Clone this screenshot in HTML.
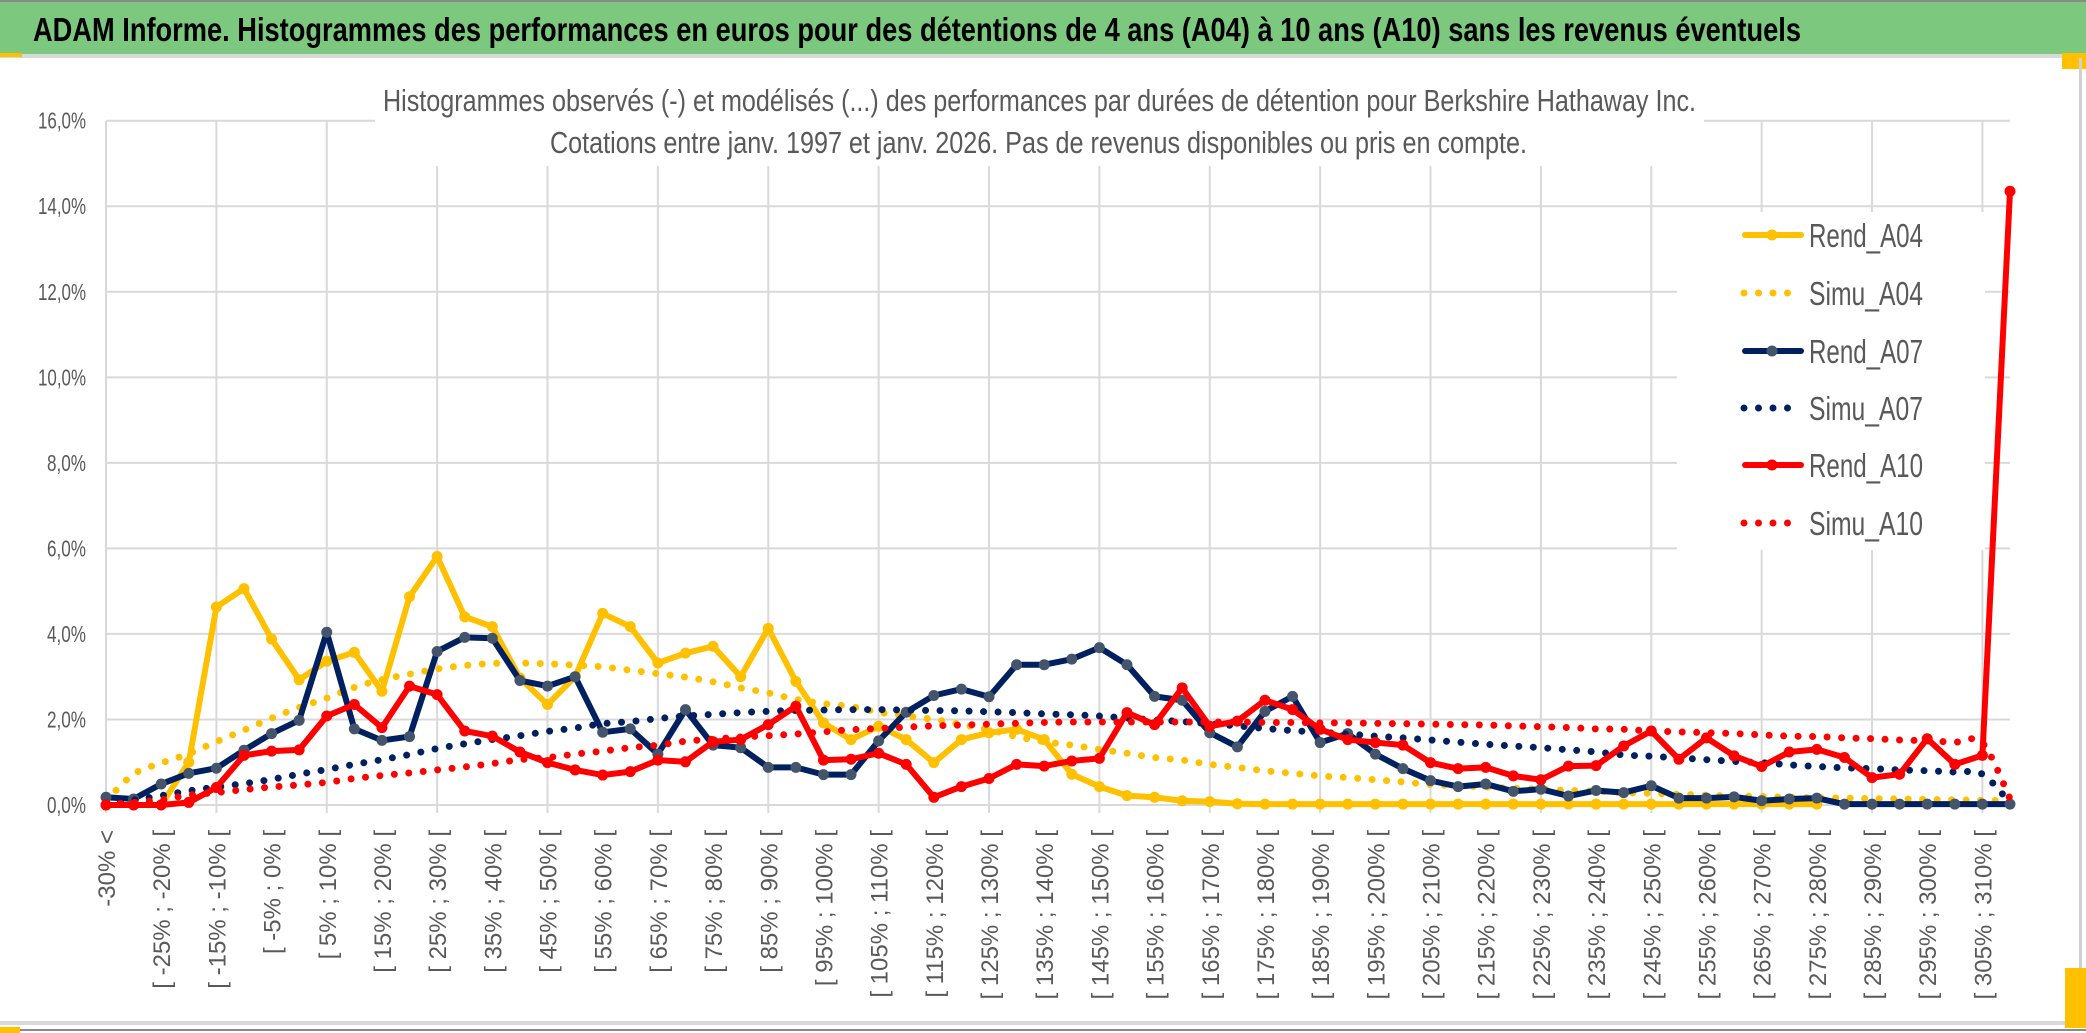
<!DOCTYPE html>
<html><head><meta charset="utf-8">
<style>
html,body{margin:0;padding:0;background:#fff;}
svg{display:block;}
.nar{font-family:"Liberation Sans Narrow","Liberation Sans",sans-serif;}
.reg{font-family:"Liberation Sans",sans-serif;}
</style></head>
<body>
<svg id="chart" width="2086" height="1033" viewBox="0 0 2086 1033" xmlns="http://www.w3.org/2000/svg">
  <rect x="0" y="0" width="2086" height="1033" fill="#fff"/>
  <rect x="0" y="0" width="2086" height="2" fill="#8a8a8a"/>
  <rect x="0" y="2" width="2086" height="52" fill="#7DC87F"/>
  <rect x="0" y="54" width="2086" height="4" fill="#d9d9d9"/>
  <rect x="0" y="53" width="22" height="4" fill="#FFC000"/>
  <rect x="2062" y="53" width="24" height="16" fill="#FFC000"/>
  <rect x="2079" y="58" width="3" height="968" fill="#d0d0d0"/>
  <rect x="0" y="1021" width="2086" height="4" fill="#d9d9d9"/>
  <rect x="0" y="1029" width="2086" height="2" fill="#8a8a8a"/>
  <rect x="0" y="1027" width="20" height="6" fill="#FFC000"/>
  <rect x="2065" y="968" width="21" height="60" fill="#FFC000"/>
  <text class="nar" x="33" y="41" font-size="33" font-weight="bold" fill="#000" textLength="1768" lengthAdjust="spacingAndGlyphs">ADAM Informe. Histogrammes des performances en euros pour des détentions de 4 ans (A04) à 10 ans (A10) sans les revenus éventuels</text>
  <g id="grid"></g>
  <g id="yaxis"></g>
  <g id="xaxis"></g>
  <rect x="375" y="72" width="1329" height="94" fill="#fff"/>
  <text class="nar" x="383" y="111" font-size="31" fill="#595959" textLength="1313" lengthAdjust="spacingAndGlyphs">Histogrammes observés (-) et modélisés (...) des performances par durées de détention pour Berkshire Hathaway Inc.</text>
  <text class="nar" x="550" y="153" font-size="31" fill="#595959" textLength="977" lengthAdjust="spacingAndGlyphs">Cotations entre janv. 1997 et janv. 2026. Pas de revenus disponibles ou pris en compte.</text>
  <g id="series"></g>
  <g id="legend"></g>
</svg>
<script>
const categories = ["-30% <",
"[ -30% ; -25% [","[ -25% ; -20% [","[ -20% ; -15% [","[ -15% ; -10% [","[ -10% ; -5% [","[ -5% ; 0% [","[ 0% ; 5% [","[ 5% ; 10% [","[ 10% ; 15% [","[ 15% ; 20% [",
"[ 20% ; 25% [","[ 25% ; 30% [","[ 30% ; 35% [","[ 35% ; 40% [","[ 40% ; 45% [","[ 45% ; 50% [","[ 50% ; 55% [","[ 55% ; 60% [","[ 60% ; 65% [","[ 65% ; 70% [",
"[ 70% ; 75% [","[ 75% ; 80% [","[ 80% ; 85% [","[ 85% ; 90% [","[ 90% ; 95% [","[ 95% ; 100% [","[ 100% ; 105% [","[ 105% ; 110% [","[ 110% ; 115% [","[ 115% ; 120% [",
"[ 120% ; 125% [","[ 125% ; 130% [","[ 130% ; 135% [","[ 135% ; 140% [","[ 140% ; 145% [","[ 145% ; 150% [","[ 150% ; 155% [","[ 155% ; 160% [","[ 160% ; 165% [","[ 165% ; 170% [",
"[ 170% ; 175% [","[ 175% ; 180% [","[ 180% ; 185% [","[ 185% ; 190% [","[ 190% ; 195% [","[ 195% ; 200% [","[ 200% ; 205% [","[ 205% ; 210% [","[ 210% ; 215% [","[ 215% ; 220% [",
"[ 220% ; 225% [","[ 225% ; 230% [","[ 230% ; 235% [","[ 235% ; 240% [","[ 240% ; 245% [","[ 245% ; 250% [","[ 250% ; 255% [","[ 255% ; 260% [","[ 260% ; 265% [","[ 265% ; 270% [",
"[ 270% ; 275% [","[ 275% ; 280% [","[ 280% ; 285% [","[ 285% ; 290% [","[ 290% ; 295% [","[ 295% ; 300% [","[ 300% ; 305% [","[ 305% ; 310% [","[ 310% ; 315% ["];

const rendA04 = [0,0,0,1.0,4.63,5.06,3.88,2.93,3.36,3.57,2.66,4.87,5.81,4.4,4.17,2.97,2.35,3.0,4.48,4.17,3.32,3.55,3.71,3.0,4.13,2.89,1.92,1.53,1.84,1.53,0.99,1.53,1.69,1.77,1.53,0.72,0.43,0.22,0.18,0.1,0.08,0.03,0.02,0.02,0.02,0.02,0.02,0.02,0.02,0.02,0.02,0.02,0.02,0.02,0.02,0.02,0.02,0.02,0.02,0.02,0.02,0.02,0.02];
const simuA04 = [0.1,0.72,0.98,1.2,1.48,1.75,2.03,2.28,2.5,2.75,2.93,3.06,3.18,3.26,3.31,3.32,3.3,3.27,3.23,3.15,3.07,2.99,2.88,2.74,2.62,2.47,2.37,2.3,2.17,2.08,2.0,1.88,1.76,1.6,1.48,1.4,1.3,1.21,1.11,1.05,0.95,0.88,0.8,0.74,0.68,0.64,0.59,0.54,0.48,0.45,0.42,0.39,0.37,0.34,0.32,0.29,0.27,0.25,0.23,0.21,0.2,0.18,0.17,0.16,0.15,0.14,0.13,0.12,0.11,0.1];
const rendA07 = [0.18,0.14,0.49,0.74,0.86,1.28,1.67,1.98,4.04,1.78,1.51,1.6,3.59,3.92,3.9,2.91,2.78,3.0,1.7,1.78,1.19,2.23,1.4,1.34,0.88,0.88,0.71,0.71,1.5,2.17,2.56,2.71,2.53,3.28,3.28,3.41,3.68,3.28,2.54,2.45,1.69,1.36,2.19,2.54,1.46,1.67,1.19,0.85,0.57,0.43,0.49,0.32,0.37,0.21,0.34,0.29,0.45,0.16,0.16,0.19,0.1,0.14,0.16,0.02,0.02,0.02,0.02,0.02,0.02,0.02];
const simuA07 = [0.05,0.12,0.22,0.33,0.42,0.5,0.6,0.72,0.83,0.95,1.06,1.18,1.32,1.43,1.53,1.62,1.72,1.8,1.9,1.95,2.02,2.08,2.12,2.16,2.19,2.21,2.22,2.23,2.23,2.22,2.21,2.2,2.18,2.16,2.13,2.11,2.08,2.03,1.99,1.95,1.9,1.85,1.79,1.74,1.7,1.66,1.61,1.57,1.52,1.47,1.42,1.38,1.34,1.29,1.24,1.17,1.14,1.1,1.06,1.02,0.99,0.94,0.9,0.87,0.85,0.82,0.8,0.77,0.72,0.05];
const rendA10 = [0,0,0,0.06,0.41,1.16,1.26,1.29,2.08,2.35,1.81,2.78,2.58,1.73,1.61,1.24,0.99,0.82,0.7,0.78,1.05,1.01,1.48,1.53,1.88,2.31,1.05,1.07,1.21,0.95,0.18,0.43,0.62,0.95,0.91,1.03,1.09,2.16,1.88,2.74,1.84,1.96,2.45,2.23,1.77,1.53,1.46,1.4,0.99,0.85,0.88,0.68,0.59,0.91,0.92,1.38,1.73,1.07,1.57,1.15,0.9,1.24,1.3,1.11,0.64,0.72,1.55,0.95,1.16,14.35];
const simuA10 = [0.02,0.06,0.12,0.23,0.29,0.36,0.42,0.47,0.53,0.62,0.69,0.75,0.82,0.89,0.97,1.06,1.11,1.19,1.26,1.34,1.4,1.49,1.54,1.59,1.62,1.66,1.71,1.76,1.79,1.82,1.85,1.87,1.89,1.91,1.93,1.94,1.94,1.94,1.94,1.94,1.94,1.94,1.93,1.93,1.92,1.92,1.91,1.9,1.89,1.88,1.87,1.85,1.83,1.81,1.78,1.77,1.73,1.71,1.69,1.67,1.64,1.61,1.6,1.57,1.55,1.52,1.5,1.47,1.45,0.15];
const yTicks = [0,2,4,6,8,10,12,14,16];
const yTickLabels = ["0,0%","2,0%","4,0%","6,0%","8,0%","10,0%","12,0%","14,0%","16,0%"];

const NS = "http://www.w3.org/2000/svg";
const X0 = 106, X1 = 2010, Y0 = 805, YTOP = 120.7, YMAX = 16;
function xs(k){ return X0 + k * (X1 - X0) / (categories.length - 1); }
function ys(v){ return Y0 - v * (Y0 - YTOP) / YMAX; }
function mk(tag, parent){ const e = document.createElementNS(NS, tag); parent.appendChild(e); return e; }

const grid = document.getElementById('grid');
yTicks.forEach(function(t){
  const l = mk('line', grid);
  
  
  l.setAttribute('x1', X0); l.setAttribute('x2', X1);
  l.setAttribute('y1', ys(t)); l.setAttribute('y2', ys(t));
  l.setAttribute('stroke', '#d9d9d9'); l.setAttribute('stroke-width', 2);
});
for (let k = 0; k < categories.length; k += 4) {
  const l = mk('line', grid);
  
  
  l.setAttribute('x1', xs(k)); l.setAttribute('x2', xs(k));
  l.setAttribute('y1', YTOP); l.setAttribute('y2', Y0 + 8);
  l.setAttribute('stroke', '#d9d9d9'); l.setAttribute('stroke-width', 2);
}
const yax = document.getElementById('yaxis');
yTicks.forEach(function(t, i){
  const tx = mk('text', yax);
  
  
  tx.setAttribute('class', 'nar');
  tx.setAttribute('x', 86); tx.setAttribute('y', ys(t) + 8);
  tx.setAttribute('text-anchor', 'end');
  tx.setAttribute('font-size', 23); tx.setAttribute('fill', '#595959');
  tx.setAttribute('textLength', yTickLabels[i].length > 4 ? 48 : 39);
  tx.setAttribute('lengthAdjust', 'spacingAndGlyphs');
  tx.textContent = yTickLabels[i];
});
const xax = document.getElementById('xaxis');
categories.forEach(function(c, k){
  if (k % 2) return;
  const tx = mk('text', xax);
  
  
  tx.setAttribute('class', 'reg');
  const cx = xs(k) + 9, cy = 830;
  tx.setAttribute('x', cx); tx.setAttribute('y', cy);
  tx.setAttribute('transform', 'rotate(-90 ' + cx + ' ' + cy + ')');
  tx.setAttribute('text-anchor', 'end');
  tx.setAttribute('font-size', 24); tx.setAttribute('fill', '#595959');
  tx.textContent = c;
});

function smoothPath(vals){
  const p = vals.map(function(v, k){ return [xs(k), ys(v)]; });
  let d = 'M' + p[0][0] + ',' + p[0][1];
  for (let i = 0; i < p.length - 1; i++) {
    const a = p[Math.max(i - 1, 0)], b = p[i], c = p[i + 1], e = p[Math.min(i + 2, p.length - 1)];
    const c1x = b[0] + (c[0] - a[0]) / 6, c1y = b[1] + (c[1] - a[1]) / 6;
    const c2x = c[0] - (e[0] - b[0]) / 6, c2y = c[1] - (e[1] - b[1]) / 6;
    d += ' C' + c1x + ',' + c1y + ' ' + c2x + ',' + c2y + ' ' + c[0] + ',' + c[1];
  }
  return d;
}
const ser = document.getElementById('series');
function drawRend(vals, color, mcol, name){
  const g = mk('g', ser);
  
  
  const pl = mk('polyline', g);
  
  
  pl.setAttribute('points', vals.map(function(v, k){ return xs(k) + ',' + ys(v); }).join(' '));
  pl.setAttribute('fill', 'none'); pl.setAttribute('stroke', color);
  pl.setAttribute('stroke-width', 6); pl.setAttribute('stroke-linejoin', 'round');
  vals.forEach(function(v, k){
    const c = mk('circle', g);
    
    
    c.setAttribute('cx', xs(k)); c.setAttribute('cy', ys(v)); c.setAttribute('r', 5.5);
    c.setAttribute('fill', mcol);
  });
}
function drawSimu(vals, color, name){
  const p = mk('path', ser);
  
  
  p.setAttribute('d', smoothPath(vals));
  p.setAttribute('fill', 'none'); p.setAttribute('stroke', color);
  p.setAttribute('stroke-width', 7); p.setAttribute('stroke-linecap', 'round');
  p.setAttribute('stroke-dasharray', '0 14.5');
}
drawRend(rendA04, '#FFC000', '#FFC000', 'rend-a04');
drawSimu(simuA04, '#FFC000', 'simu-a04');
drawRend(rendA07, '#002060', '#44546A', 'rend-a07');
drawSimu(simuA07, '#002060', 'simu-a07');
drawRend(rendA10, '#FF0000', '#FF0000', 'rend-a10');
drawSimu(simuA10, '#FF0000', 'simu-a10');

const leg = document.getElementById('legend');
const lb = mk('rect', leg);


lb.setAttribute('x', 1677); lb.setAttribute('y', 212); lb.setAttribute('width', 308); lb.setAttribute('height', 338); lb.setAttribute('fill', '#fff');
const legendNames = ['Rend_A04','Simu_A04','Rend_A07','Simu_A07','Rend_A10','Simu_A10'];
const legendColors = ['#FFC000','#FFC000','#002060','#002060','#FF0000','#FF0000'];
const legendMarkers = ['#FFC000',null,'#44546A',null,'#FF0000',null];
const legendY = [235,293,351,408,465,523];
legendNames.forEach(function(n, i){
  const y = legendY[i];
  const ln = mk('line', leg);
  
  
  ln.setAttribute('y1', y); ln.setAttribute('y2', y);
  ln.setAttribute('stroke', legendColors[i]); ln.setAttribute('stroke-linecap', 'round');
  if (legendMarkers[i]) {
    ln.setAttribute('x1', 1745); ln.setAttribute('x2', 1801); ln.setAttribute('stroke-width', 6);
    const c = mk('circle', leg);
    
    
    c.setAttribute('cx', 1772); c.setAttribute('cy', y); c.setAttribute('r', 5.5); c.setAttribute('fill', legendMarkers[i]);
  } else {
    ln.setAttribute('x1', 1744); ln.setAttribute('x2', i === 5 ? 1800 : 1790); ln.setAttribute('stroke-width', 7);
    ln.setAttribute('stroke-dasharray', '0 14.5');
  }
  const t = mk('text', leg);
  
  
  t.setAttribute('class', 'nar');
  t.setAttribute('x', 1809); t.setAttribute('y', y + 12);
  t.setAttribute('font-size', 33); t.setAttribute('fill', '#595959');
  t.setAttribute('textLength', 114); t.setAttribute('lengthAdjust', 'spacingAndGlyphs');
  t.textContent = n;
});
</script>
</body></html>
